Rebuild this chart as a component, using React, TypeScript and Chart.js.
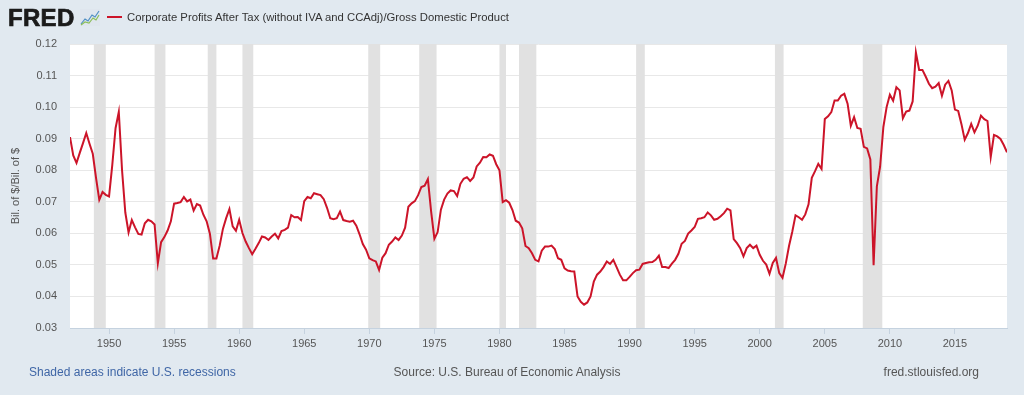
import React, { useEffect, useRef } from 'react';
import { Chart, registerables } from 'chart.js';

Chart.register(...registerables);

// Quarterly observations starting 1947 Q1
const START_YEAR = 1947;
const PERIODS_PER_YEAR = 4;

const PROFITS_TO_GDP: number[] = [
  // 1947-1949
  0.0905, 0.0847, 0.0823, 0.0855, 0.0886, 0.0918, 0.0884, 0.0852, 0.0776, 0.0706, 0.0731, 0.0722,
  // 1950-1952
  0.0717, 0.0817, 0.0933, 0.0985, 0.0800, 0.0666, 0.0603, 0.0642, 0.0619, 0.0598, 0.0596, 0.0632,
  // 1953-1955
  0.0643, 0.0638, 0.0628, 0.0505, 0.0572, 0.0588, 0.0609, 0.0638, 0.0694, 0.0696, 0.0699, 0.0715,
  // 1956-1958
  0.0701, 0.0707, 0.0672, 0.0693, 0.0688, 0.0659, 0.0638, 0.0599, 0.0520, 0.0520, 0.0561, 0.0614,
  // 1959-1961
  0.0648, 0.0677, 0.0622, 0.0608, 0.0643, 0.0601, 0.0574, 0.0553, 0.0534, 0.0551, 0.0569, 0.0590,
  // 1962-1964
  0.0587, 0.0579, 0.0590, 0.0599, 0.0584, 0.0607, 0.0611, 0.0618, 0.0658, 0.0651, 0.0652, 0.0642,
  // 1965-1967
  0.0702, 0.0715, 0.0711, 0.0727, 0.0724, 0.0721, 0.0708, 0.0681, 0.0648, 0.0645, 0.0648, 0.0669,
  // 1968-1970
  0.0642, 0.0639, 0.0637, 0.0640, 0.0624, 0.0597, 0.0566, 0.0548, 0.0521, 0.0515, 0.0511, 0.0484,
  // 1971-1973
  0.0523, 0.0537, 0.0564, 0.0574, 0.0587, 0.0579, 0.0593, 0.0618, 0.0684, 0.0695, 0.0702, 0.0721,
  // 1974-1976
  0.0747, 0.0751, 0.0772, 0.0669, 0.0583, 0.0604, 0.0675, 0.0707, 0.0726, 0.0736, 0.0734, 0.0718,
  // 1977-1979
  0.0757, 0.0773, 0.0778, 0.0766, 0.0777, 0.0812, 0.0824, 0.0842, 0.0841, 0.0850, 0.0846, 0.0819,
  // 1980-1982
  0.0800, 0.0699, 0.0705, 0.0697, 0.0674, 0.0640, 0.0634, 0.0616, 0.0560, 0.0553, 0.0537, 0.0516,
  // 1983-1985
  0.0511, 0.0545, 0.0558, 0.0558, 0.0561, 0.0550, 0.0521, 0.0516, 0.0489, 0.0482, 0.0480, 0.0479,
  // 1986-1988
  0.0400, 0.0383, 0.0374, 0.0381, 0.0400, 0.0447, 0.0469, 0.0479, 0.0493, 0.0511, 0.0503, 0.0516,
  // 1989-1991
  0.0493, 0.0469, 0.0451, 0.0451, 0.0462, 0.0474, 0.0483, 0.0485, 0.0503, 0.0506, 0.0508, 0.0509,
  // 1992-1994
  0.0516, 0.0529, 0.0493, 0.0493, 0.0490, 0.0504, 0.0516, 0.0535, 0.0567, 0.0576, 0.0599, 0.0609,
  // 1995-1997
  0.0620, 0.0646, 0.0648, 0.0651, 0.0666, 0.0657, 0.0643, 0.0646, 0.0654, 0.0664, 0.0678, 0.0673,
  // 1998-2000
  0.0582, 0.0569, 0.0553, 0.0527, 0.0553, 0.0564, 0.0553, 0.0561, 0.0532, 0.0513, 0.0501, 0.0472,
  // 2001-2003
  0.0506, 0.0522, 0.0474, 0.0459, 0.0504, 0.0560, 0.0605, 0.0657, 0.0651, 0.0643, 0.0660, 0.0692,
  // 2004-2006
  0.0776, 0.0797, 0.0820, 0.0804, 0.0962, 0.0971, 0.0984, 0.1021, 0.1021, 0.1036, 0.1042, 0.1011,
  // 2007-2009
  0.0941, 0.0968, 0.0934, 0.0931, 0.0874, 0.0869, 0.0834, 0.0499, 0.0749, 0.0811, 0.0937, 0.1000,
  // 2010-2012
  0.1039, 0.1020, 0.1063, 0.1053, 0.0965, 0.0986, 0.0989, 0.1018, 0.1173, 0.1118, 0.1118, 0.1097,
  // 2013-2015
  0.1074, 0.1060, 0.1065, 0.1076, 0.1036, 0.1071, 0.1083, 0.1053, 0.0992, 0.0988, 0.0946, 0.0897,
  // 2016-2018
  0.0918, 0.0947, 0.0920, 0.0941, 0.0973, 0.0962, 0.0956, 0.0842, 0.0912, 0.0907, 0.0899, 0.0880,
  // 2019
  0.0857,
];

const X_TICK_YEARS = [1950, 1955, 1960, 1965, 1970, 1975, 1980, 1985, 1990, 1995, 2000, 2005, 2010, 2015];
const Y_TICK_VALUES = [0.03, 0.04, 0.05, 0.06, 0.07, 0.08, 0.09, 0.1, 0.11, 0.12];

// Recession periods (start, end) as decimal years
const RECESSION_START = [1948.833, 1953.5, 1957.583, 1960.25, 1969.917, 1973.833, 1980.0, 1981.5, 1990.5, 2001.167, 2007.917];
const RECESSION_END = [1949.75, 1954.333, 1958.25, 1961.083, 1970.833, 1975.167, 1980.5, 1982.833, 1991.167, 2001.833, 2009.417];

const SERIES_LABEL = 'Corporate Profits After Tax (without IVA and CCAdj)/Gross Domestic Product';
const Y_TITLE = 'Bil. of $/Bil. of $';

const LINE_COLOR = '#cc1429';
const BG = '#e1e9f0';
const FONT = '"Liberation Sans", Arial, sans-serif';

const plotBackground = {
  id: 'plotBackground',
  beforeDraw(chart: any) {
    const { ctx, chartArea } = chart;
    ctx.save();
    ctx.fillStyle = '#ffffff';
    ctx.fillRect(chartArea.left, chartArea.top, chartArea.right - chartArea.left, chartArea.bottom - chartArea.top);
    ctx.restore();
  },
};

const recessionShading = {
  id: 'recessionShading',
  beforeDatasetsDraw(chart: any) {
    const { ctx, chartArea, scales } = chart;
    const xs = scales.x;
    ctx.save();
    ctx.fillStyle = '#e1e1e1';
    for (let i = 0; i < RECESSION_START.length; i++) {
      const x0 = Math.max(chartArea.left, xs.getPixelForValue(RECESSION_START[i]));
      const x1 = Math.min(chartArea.right, xs.getPixelForValue(RECESSION_END[i]));
      ctx.fillRect(x0, chartArea.top, x1 - x0, chartArea.bottom - chartArea.top);
    }
    ctx.restore();
  },
};

export default function App() {
  const canvasRef = useRef<HTMLCanvasElement | null>(null);

  useEffect(() => {
    document.body.style.margin = '0';
    const canvas = canvasRef.current;
    if (!canvas) return;
    const points = PROFITS_TO_GDP.map((v, i) => ({ x: START_YEAR + i / PERIODS_PER_YEAR, y: v }));
    const tickFont = { family: FONT, size: 11 };
    const chart = new Chart(canvas, {
      type: 'line',
      data: {
        datasets: [
          {
            label: SERIES_LABEL,
            data: points,
            borderColor: LINE_COLOR,
            backgroundColor: LINE_COLOR,
            borderWidth: 2,
            pointRadius: 0,
            tension: 0,
            fill: false,
          },
        ],
      },
      options: {
        animation: false,
        responsive: false,
        maintainAspectRatio: false,
        layout: { padding: { left: 0, right: 17, top: 44, bottom: 37 } },
        plugins: {
          legend: { display: false },
          tooltip: { enabled: false },
        },
        scales: {
          x: {
            type: 'linear',
            min: 1947,
            max: 2019,
            afterBuildTicks: (s: any) => {
              s.ticks = X_TICK_YEARS.map((v) => ({ value: v }));
            },
            afterFit: (s: any) => {
              s.height = 30;
            },
            grid: {
              drawOnChartArea: false,
              drawTicks: true,
              tickLength: 6,
              color: '#c5d2df',
            },
            border: { display: true, color: '#c5d2df' },
            ticks: {
              font: tickFont,
              color: '#555555',
              padding: 3,
              maxRotation: 0,
              autoSkip: false,
              callback: (v: any) => String(v),
            },
          },
          y: {
            min: 0.03,
            max: 0.12,
            afterBuildTicks: (s: any) => {
              s.ticks = Y_TICK_VALUES.map((v) => ({ value: v }));
            },
            afterFit: (s: any) => {
              s.width = 70;
            },
            grid: { color: '#e8e8e8', drawTicks: false, lineWidth: 1 },
            border: { display: false },
            ticks: {
              font: tickFont,
              color: '#555555',
              padding: 13,
              callback: (v: any) => Number(v).toFixed(2),
            },
            title: {
              display: true,
              text: Y_TITLE,
              font: { family: FONT, size: 11 },
              color: '#555555',
              padding: { top: 9, bottom: 0 },
            },
          },
        },
      },
      plugins: [plotBackground, recessionShading],
    } as any);
    return () => chart.destroy();
  }, []);

  return (
    <div
      style={{
        position: 'absolute',
        left: 0,
        top: 0,
        width: 1024,
        height: 395,
        background: BG,
        fontFamily: FONT,
        overflow: 'hidden',
      }}
    >
      <canvas ref={canvasRef} width={1024} height={395} style={{ position: 'absolute', left: 0, top: 0 }} />
      {/* Header: logo */}
      <div
        style={{
          position: 'absolute',
          left: 8,
          top: 4,
          fontWeight: 'bold',
          fontSize: 24,
          letterSpacing: 0.3,
          color: '#1b1b1b',
          lineHeight: '28px',
          WebkitTextStroke: '0.7px #1b1b1b',
        }}
      >
        FRED
      </div>
      <svg style={{ position: 'absolute', left: 80, top: 9 }} width={20} height={17} viewBox="0 0 20 17">
        <rect x={0} y={0} width={20} height={17} fill="#dfe6ee" />
        <polyline points="1,15 5,10 8,12 12,6 15,8 19,2" fill="none" stroke="#4f8fc4" strokeWidth={1.2} />
        <polyline points="1,16 5,13 9,14 13,9 16,11 19,6" fill="none" stroke="#8bbf5a" strokeWidth={1.2} />
      </svg>
      {/* Legend */}
      <div style={{ position: 'absolute', left: 107, top: 16, width: 15, height: 2, background: LINE_COLOR }} />
      <div
        style={{
          position: 'absolute',
          left: 127,
          top: 10,
          fontSize: 11.3,
          lineHeight: '14px',
          color: '#333333',
          whiteSpace: 'nowrap',
        }}
      >
        {SERIES_LABEL}
      </div>
      {/* Footer */}
      <div
        style={{
          position: 'absolute',
          left: 29,
          top: 364,
          fontSize: 12,
          lineHeight: '16px',
          color: '#3f66a6',
          whiteSpace: 'nowrap',
        }}
      >
        Shaded areas indicate U.S. recessions
      </div>
      <div
        style={{
          position: 'absolute',
          left: 507,
          top: 364,
          transform: 'translateX(-50%)',
          fontSize: 12,
          lineHeight: '16px',
          color: '#555555',
          whiteSpace: 'nowrap',
        }}
      >
        Source: U.S. Bureau of Economic Analysis
      </div>
      <div
        style={{
          position: 'absolute',
          right: 45,
          top: 364,
          fontSize: 12,
          lineHeight: '16px',
          color: '#555555',
          whiteSpace: 'nowrap',
        }}
      >
        fred.stlouisfed.org
      </div>
    </div>
  );
}
